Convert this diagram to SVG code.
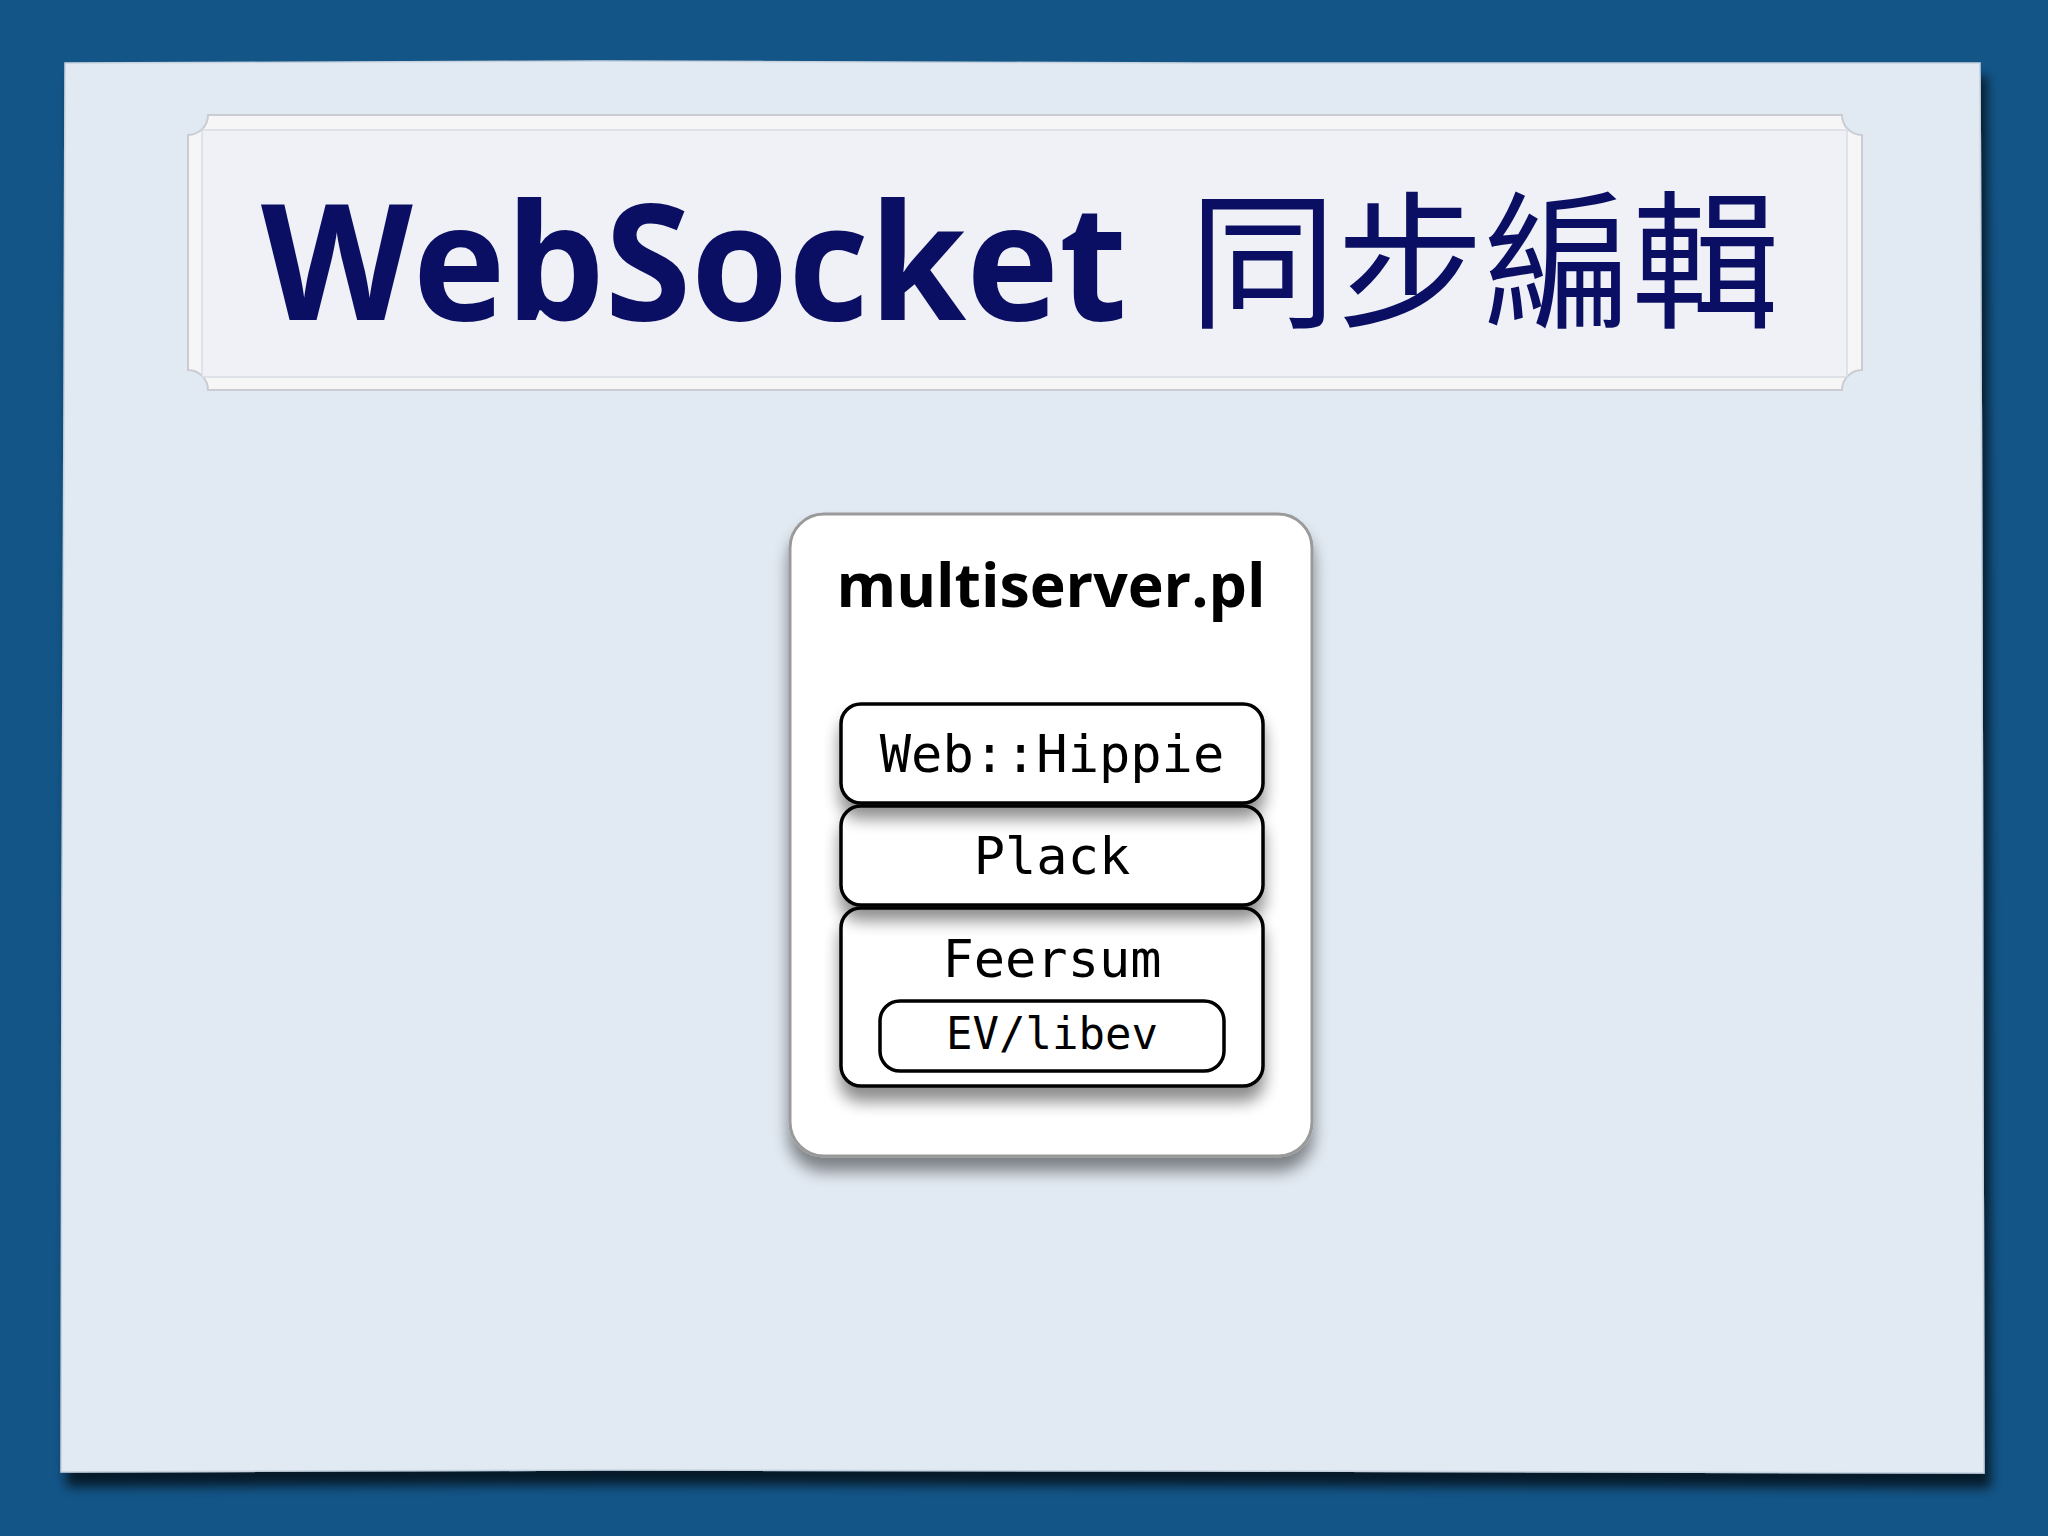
<svg xmlns="http://www.w3.org/2000/svg" width="2048" height="1536" viewBox="0 0 2048 1536">
<defs>
<style>
.title{font-family:"Open Sans","Liberation Sans",sans-serif;font-weight:700;fill:#0a0f63}
.cjk{font-family:"Noto Sans CJK TC","Noto Sans CJK SC",sans-serif;font-weight:400;fill:#0a0f63}
.layer{fill:#ffffff;stroke:#000;stroke-width:3.5}
.mono{font-family:"DejaVu Sans Mono","Liberation Mono",monospace;fill:#000;text-anchor:middle}
</style>
<filter id="paperShadow" x="-10%" y="-10%" width="120%" height="120%">
<feGaussianBlur in="SourceAlpha" stdDeviation="6"/>
<feOffset dx="6" dy="14"/>
<feComponentTransfer><feFuncA type="linear" slope="0.7"/></feComponentTransfer>
<feMerge><feMergeNode/><feMergeNode in="SourceGraphic"/></feMerge>
</filter>
<filter id="boxShadow" x="-20%" y="-20%" width="140%" height="140%">
<feGaussianBlur in="SourceAlpha" stdDeviation="8"/>
<feOffset dx="0" dy="14"/>
<feComponentTransfer><feFuncA type="linear" slope="0.45"/></feComponentTransfer>
<feMerge><feMergeNode/><feMergeNode in="SourceGraphic"/></feMerge>
</filter>
<filter id="layerShadow" x="-20%" y="-20%" width="140%" height="160%">
<feGaussianBlur in="SourceAlpha" stdDeviation="8"/>
<feOffset dx="0" dy="14"/>
<feComponentTransfer><feFuncA type="linear" slope="0.45"/></feComponentTransfer>
<feMerge><feMergeNode/><feMergeNode in="SourceGraphic"/></feMerge>
</filter>
</defs>
<rect width="2048" height="1536" fill="#135587"/>
<g id="paper">
<path d="M65 63 L600 61 L1200 63 L1980 63 L1982 600 L1983 1100 L1984 1473 L1200 1471 L600 1470 L61 1472 L62 900 L64 400 Z" fill="#e1e9f2" stroke="#c6d2de" stroke-width="1.5" filter="url(#paperShadow)"/>
</g>
<g id="title">
<path d="M208 115 L1842 115 A20 20 0 0 0 1862 135 L1862 370 A20 20 0 0 0 1842 390 L208 390 A20 20 0 0 0 188 370 L188 135 A20 20 0 0 0 208 115 Z" fill="#f7f6f6" stroke="#c9ccd2" stroke-width="2"/>
<rect x="202" y="130" width="1645" height="247" fill="#f0f1f7" stroke="#d8dbe2" stroke-width="1.5"/>
<text class="title" x="261" y="320" font-size="162" textLength="866" lengthAdjust="spacingAndGlyphs">WebSocket</text>
<text class="cjk" x="1189" y="316" font-size="148" textLength="590" lengthAdjust="spacingAndGlyphs">同步編輯</text>
</g>
<g id="multiserver">
<rect x="790" y="514" width="522" height="642" rx="34" fill="#ffffff" stroke="#9a9a9a" stroke-width="3" filter="url(#boxShadow)"/>
<text x="1051" y="607" font-family="Open Sans,Liberation Sans,sans-serif" font-weight="700" font-size="60" text-anchor="middle" textLength="429" lengthAdjust="spacingAndGlyphs" fill="#000">multiserver.pl</text>
</g>
<g id="feersum" filter="url(#layerShadow)">
<rect class="layer" x="841" y="908" width="422" height="178" rx="20"/>
<text class="mono" x="1052" y="977" font-size="52">Feersum</text>
</g>
<g id="ev-libev">
<rect class="layer" x="880" y="1001" width="344" height="70" rx="20"/>
<text class="mono" x="1052" y="1049" font-size="44">EV/libev</text>
</g>
<g id="plack" filter="url(#layerShadow)">
<rect class="layer" x="841" y="806" width="422" height="99" rx="20"/>
<text class="mono" x="1052" y="874" font-size="52">Plack</text>
</g>
<g id="web-hippie" filter="url(#layerShadow)">
<rect class="layer" x="841" y="704" width="422" height="99" rx="20"/>
<text class="mono" x="1052" y="772" font-size="52">Web::Hippie</text>
</g>
<g id="connectors"/>
</svg>
